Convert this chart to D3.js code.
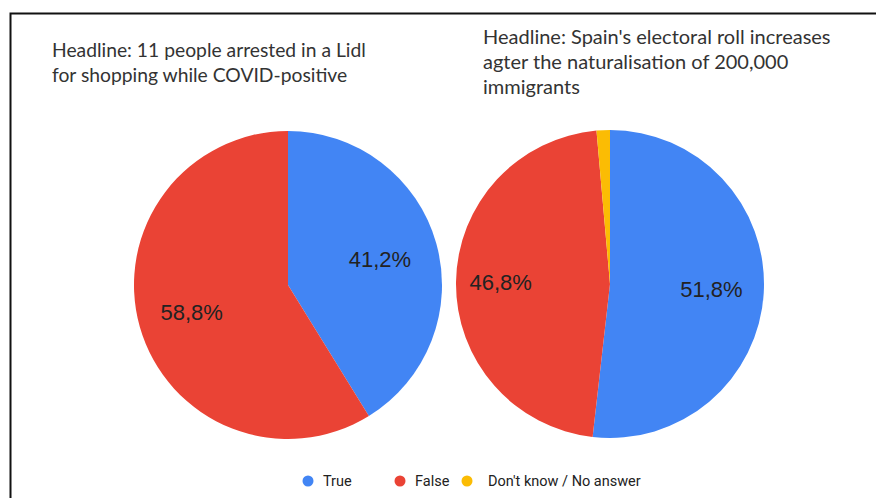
<!DOCTYPE html>
<html><head><meta charset="utf-8">
<script src="https://cdn.jsdelivr.net/npm/d3@7"></script>
<style>body{margin:0;background:#fff}svg{display:block}</style>
</head><body>
<svg id="c" width="876" height="498"></svg>
<script>
const categories = ["True", "False", "Don't know / No answer"];
const colors = ["#4285F4", "#EA4335", "#FBBC04"];
const pie1Values = [41.2, 58.8, 0];
const pie2Values = [51.8, 46.8, 1.4];
const pie1Labels = ["41,2%", "58,8%", ""];
const pie2Labels = ["51,8%", "46,8%", ""];
const title1 = ["Headline: 11 people arrested in a Lidl", "for shopping while COVID-positive"];
const title2 = ["Headline: Spain's electoral roll increases", "agter the naturalisation of 200,000", "immigrants"];

const svg = d3.select("#c");
// frame
svg.append("path").attr("d", "M10.5,498 V13.5 H876").attr("fill", "none").attr("stroke", "#111").attr("stroke-width", 2);

const color = d3.scaleOrdinal().domain(categories).range(colors);
const pie = d3.pie().sort(null).value(d => d.v);

function drawPie(cx, cy, r, values, labels, lf) {
  const data = categories.map((c, i) => ({c, v: values[i], l: labels[i]}));
  const g = svg.append("g").attr("transform", `translate(${cx},${cy})`);
  const arc = d3.arc().innerRadius(0).outerRadius(r);
  const arcs = pie(data);
  g.selectAll("path").data(arcs).join("path")
    .attr("d", arc).attr("fill", d => color(d.data.c));
  g.selectAll("text").data(arcs.filter(d => d.data.l)).join("text")
    .attr("transform", (d, i) => {
      const rr = r * lf[i];
      return `translate(${d3.arc().innerRadius(rr).outerRadius(rr).centroid(d)})`;
    })
    .attr("text-anchor", "middle").attr("dy", "0.35em")
    .attr("font-family", "Liberation Sans, Arial, sans-serif")
    .attr("font-size", 22).attr("fill", "#222")
    .text(d => d.data.l);
}
drawPie(288, 285, 154, pie1Values, pie1Labels, [0.62, 0.65]);
drawPie(610, 284, 154, pie2Values, pie2Labels, [0.66, 0.71]);

function drawTitle(x, y, lines, fs) {
  const t = svg.append("text").attr("font-family", "Lato, 'Open Sans', sans-serif")
    .attr("font-size", fs).attr("fill", "#333");
  lines.forEach((s, i) => t.append("tspan").attr("x", x).attr("y", y + i * 25).text(s));
}
drawTitle(52, 57, title1, 19.3);
drawTitle(483, 44, title2, 20);

// legend
const legendX = [308, 400, 467];
const lg = svg.append("g");
categories.forEach((c, i) => {
  lg.append("circle").attr("cx", legendX[i]).attr("cy", 481).attr("r", 5.5).attr("fill", color(c));
  lg.append("text").attr("x", legendX[i] + 15 + (i === 2 ? 6 : 0)).attr("y", 486)
    .attr("font-family", "Roboto, 'Noto Sans', sans-serif").attr("font-size", 14.5).attr("fill", "#222").text(c);
});
</script>
</body></html>
